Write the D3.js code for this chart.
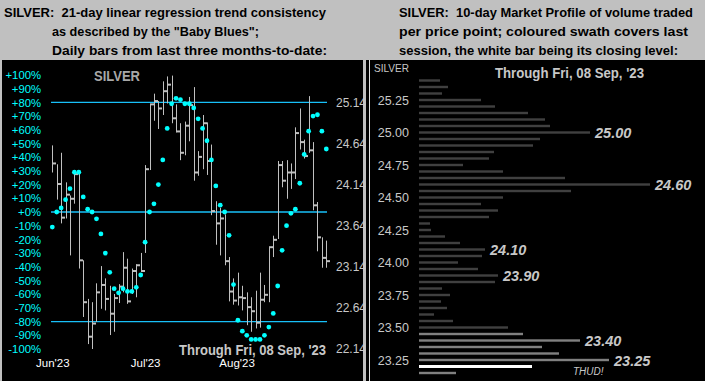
<!DOCTYPE html>
<html>
<head>
<meta charset="utf-8">
<script src="https://cdn.jsdelivr.net/npm/d3@7"></script>
<style>
  body { margin: 0; background: #c0c0c0; }
  svg { display: block; }
  text { white-space: pre; }
</style>
</head>
<body>
<div id="chart-area"></div>
<script>
// daily bars, last three months (index 0 = first bar)
const highs = [24.62,24.39,24.53,24.17,24.01,24.29,24.28,23.22,22.75,22.71,22.94,23.15,23.00,22.91,22.81,22.93,23.32,23.24,23.12,23.17,23.31,24.38,25.12,25.25,25.16,25.40,25.46,25.47,25.12,24.89,24.91,
  25.21,25.33,24.55,24.99,24.90,24.63,23.94,23.86,23.78,23.26,23.00,23.07,22.91,22.83,22.77,22.85,23.07,22.92,23.38,23.52,24.43,24.43,24.44,24.40,24.84,25.07,24.69,25.22,24.66,23.93,23.50,23.46];
const lows = [24.29,23.96,23.67,23.73,23.28,23.91,23.12,22.53,22.20,22.14,22.47,22.63,22.61,22.31,22.35,22.70,22.83,22.69,22.81,22.77,23.08,23.31,24.32,24.92,24.82,24.99,25.13,24.89,24.78,24.44,24.50,
  24.67,24.19,24.25,24.33,24.26,23.77,23.41,23.28,23.16,22.72,22.68,22.67,22.61,22.43,22.35,22.39,22.40,22.71,22.71,23.26,23.48,24.11,23.97,24.09,24.21,24.57,24.46,24.53,23.83,23.33,23.13,23.13];
const closes = [24.40,24.15,23.74,24.02,23.97,24.27,23.22,22.71,22.29,22.45,22.83,22.92,22.75,22.57,22.76,22.90,23.13,22.72,23.09,23.16,23.09,24.33,25.12,25.16,25.07,25.28,25.36,24.95,24.79,24.53,24.86,
  25.11,24.29,24.48,24.89,24.43,23.82,23.67,23.73,23.21,22.84,22.73,22.77,22.76,22.65,22.60,22.46,22.74,22.80,23.38,23.47,24.38,24.19,24.29,24.29,24.77,24.66,24.49,24.56,23.89,23.50,23.25,23.21];
// "Baby Blues": 21-day linear regression trend consistency, %
const blues = [-11,0,3,9,17,29,29,11,2,0,-5,-16,-30,-44,-56,-59,-56,-58,-58,-55,-46,-22,0,6,20,38,61,79,83,82,79,
  79,76,68,61,52,38,19,5,0,-17,-53,-79,-87,-90,-93,-93,-93,-90,-84,-74,-54,-28,-10,-1,2,21,42,59,70,71,59,46];

const months = ["Jun'23", "Jul'23", "Aug'23"];
const monthIdx = [0, 21, 41.7];
const pctTicks = d3.range(-100, 101, 10);
const priceTicks = [22.14, 22.64, 23.14, 23.64, 24.14, 24.64, 25.14];
const bandLines = [80, 0, -80];

// 10-day market profile: price level and volume traded there
const profPrice = [25.40,25.35,25.30,25.25,25.20,25.15,25.10,25.05,25.00,24.95,24.90,24.85,24.80,24.75,24.70,24.65,24.60,24.55,24.50,24.45,24.40,24.35,24.30,24.25,24.20,24.15,24.10,24.05,24.00,23.95,23.90,23.85,23.80,23.75,23.70,23.65,23.60,23.55,23.50,23.45,23.40,23.35,23.30,23.25,23.20,23.15];
const profVol = [21,29,23,62,76,109,126,131,171,121,114,75,70,44,84,146,231,152,84,62,79,70,11,12,26,41,66,63,39,59,79,76,23,31,22,28,15,34,89,104,161,123,140,190,113,37];
const profTicks = [23.25, 23.50, 23.75, 24.00, 24.25, 24.50, 24.75, 25.00, 25.25];
const peakLabels = [25.00, 24.60, 24.10, 23.90, 23.40, 23.25];
const lastHigh = 23.45, lastLow = 23.15, lastClose = 23.20;

const W = 705, H = 381;
const grey = "#c8c8c8";
const font = "'Liberation Sans', Arial, sans-serif";

let svg = d3.select("#chart-area")
  .append("svg")
  .attr("width", W)
  .attr("height", H)
  .style("font-family", font);

svg.append("rect").attr("width", W).attr("height", H).attr("fill", "#c0c0c0");

// header texts (x, width)
const headL = ["SILVER:  21-day linear regression trend consistency",
  "as described by the \"Baby Blues\";",
  "Daily bars from last three months-to-date:"];
const headLw = [322, 207, 275];
const headR = ["SILVER:  10-day Market Profile of volume traded",
  "per price point; coloured swath covers last",
  "session, the white bar being its closing level:"];
const headRw = [294, 289, 279];
headL.forEach((t, i) => {
  svg.append("text")
    .attr("x", i == 0 ? 4 : 52)
    .attr("y", 16.5 + i * 19)
    .attr("font-size", "13px")
    .attr("font-weight", "bold")
    .attr("textLength", headLw[i])
    .attr("lengthAdjust", "spacingAndGlyphs")
    .attr("fill", "#000")
    .text(t);
});
headR.forEach((t, i) => {
  svg.append("text")
    .attr("x", 399)
    .attr("y", 16.5 + i * 19)
    .attr("font-size", "13px")
    .attr("font-weight", "bold")
    .attr("textLength", headRw[i])
    .attr("lengthAdjust", "spacingAndGlyphs")
    .attr("fill", "#000")
    .text(t);
});

// ---------- left panel ----------
svg.append("rect").attr("x", 2).attr("y", 60).attr("width", 361).attr("height", 321).attr("fill", "#000");

const left = svg.append("g");

let x = d3.scaleLinear()
  .domain([0, closes.length - 1])
  .range([52.3, 326.3]);

let yPct = d3.scaleLinear()
  .domain([-100, 100])
  .range([349, 75]);

let yPrice = d3.scaleLinear()
  .domain([22.14, 25.14])
  .range([349, 102.7]);

// percent axis
let pctAxis = d3.axisLeft(yPct)
  .tickValues(pctTicks)
  .tickSize(0)
  .tickPadding(0)
  .tickFormat(d => (d >= 0 ? "+" : "") + d + "%");
left.append("g")
  .attr("transform", "translate(41,0)")
  .call(pctAxis)
  .call(g => g.select(".domain").remove())
  .selectAll("text")
  .attr("fill", "#00ffff")
  .attr("font-size", "11.3px")
  .attr("font-family", font);

// price axis on right
let priceAxis = d3.axisRight(yPrice)
  .tickValues(priceTicks)
  .tickSize(0)
  .tickPadding(0)
  .tickFormat(d3.format(".2f"));
left.append("g")
  .attr("transform", "translate(336,0)")
  .call(priceAxis)
  .call(g => g.select(".domain").remove())
  .selectAll("text")
  .attr("fill", grey)
  .attr("font-size", "12px")
  .attr("font-family", font);

// month labels
let monthAxis = d3.axisBottom(x)
  .tickValues(monthIdx)
  .tickSize(0)
  .tickPadding(0)
  .tickFormat((d, i) => months[i]);
left.append("g")
  .attr("transform", "translate(0,359)")
  .call(monthAxis)
  .call(g => g.select(".domain").remove())
  .selectAll("text")
  .attr("fill", "#fff")
  .attr("font-size", "11.5px")
  .attr("font-family", font);

// band lines
left.selectAll(".band").data(bandLines).enter().append("line")
  .attr("x1", 51).attr("x2", 327)
  .attr("y1", d => yPct(d)).attr("y2", d => yPct(d))
  .attr("stroke", "#18c0f8")
  .attr("stroke-width", 1.3);

// daily bars
let bars = left.selectAll(".bar").data(closes).enter().append("g");
bars.append("line")
  .attr("x1", (d, i) => Math.round(x(i)) + 0.5).attr("x2", (d, i) => Math.round(x(i)) + 0.5)
  .attr("y1", (d, i) => yPrice(highs[i])).attr("y2", (d, i) => yPrice(lows[i]))
  .attr("stroke", "#c0c0c0").attr("stroke-width", 1);
bars.append("line")
  .attr("x1", (d, i) => Math.round(x(i))).attr("x2", (d, i) => Math.round(x(i)) + 4)
  .attr("y1", d => yPrice(d)).attr("y2", d => yPrice(d))
  .attr("stroke", "#c0c0c0").attr("stroke-width", 2);

// baby blues
left.selectAll(".dot").data(blues).enter().append("circle")
  .attr("cx", (d, i) => x(i))
  .attr("cy", d => yPct(d))
  .attr("r", 2.4)
  .attr("fill", "#00ffff");

left.append("text")
  .attr("x", 94).attr("y", 81)
  .attr("font-size", "14px").attr("font-weight", "bold")
  .attr("textLength", 46).attr("lengthAdjust", "spacingAndGlyphs")
  .attr("fill", "#a8a8a8")
  .text("SILVER");

left.append("text")
  .attr("x", 179).attr("y", 355)
  .attr("font-size", "14px").attr("font-weight", "bold")
  .attr("textLength", 147).attr("lengthAdjust", "spacingAndGlyphs")
  .attr("fill", grey)
  .text("Through Fri, 08 Sep, '23");

// ---------- right panel ----------
svg.append("rect").attr("x", 366).attr("y", 60).attr("width", 339).attr("height", 321).attr("fill", "#000");
const right = svg.append("g");

right.append("line")
  .attr("x1", 369.5).attr("x2", 369.5).attr("y1", 60).attr("y2", 381)
  .attr("stroke", "#e0e0e0").attr("stroke-width", 1);

let yProf = d3.scaleLinear()
  .domain([23.25, 25.25])
  .range([360, 100]);

let xVol = d3.scaleLinear()
  .domain([0, 100])
  .range([419, 519]);

let profAxis = d3.axisLeft(yProf)
  .tickValues(profTicks)
  .tickSize(0)
  .tickPadding(0)
  .tickFormat(d3.format(".2f"));
right.append("g")
  .attr("transform", "translate(409,0)")
  .call(profAxis)
  .call(g => g.select(".domain").remove())
  .selectAll("text")
  .attr("fill", grey)
  .attr("font-size", "12.5px")
  .attr("font-family", font);

right.append("text")
  .attr("x", 374).attr("y", 72)
  .attr("font-size", "11px")
  .attr("textLength", 35).attr("lengthAdjust", "spacingAndGlyphs")
  .attr("fill", grey)
  .text("SILVER");

right.append("text")
  .attr("x", 495).attr("y", 78)
  .attr("font-size", "14px").attr("font-weight", "bold")
  .attr("textLength", 149).attr("lengthAdjust", "spacingAndGlyphs")
  .attr("fill", grey)
  .text("Through Fri, 08 Sep, '23");

const rowColor = (p) => {
  if (Math.abs(p - lastClose) < 0.001) return "#ffffff";
  if (p <= lastHigh + 0.001 && p >= lastLow - 0.001) return "#808080";
  return "#404040";
};

right.selectAll(".row").data(profVol).enter().append("rect")
  .attr("x", xVol(0))
  .attr("y", (d, i) => yProf(profPrice[i]) - (profPrice[i] == lastClose ? 1.5 : 1.2))
  .attr("width", d => xVol(d) - xVol(0))
  .attr("height", (d, i) => profPrice[i] == lastClose ? 3 : 2.4)
  .attr("fill", (d, i) => rowColor(profPrice[i]));

right.selectAll(".peak").data(peakLabels).enter().append("text")
  .attr("x", d => xVol(profVol[profPrice.indexOf(d)]) + 5)
  .attr("y", d => yProf(d) + 5.5)
  .attr("font-size", "14.5px")
  .attr("font-weight", "bold")
  .attr("font-style", "italic")
  .attr("fill", grey)
  .text(d => d.toFixed(2));

right.append("text")
  .attr("x", 573).attr("y", 375)
  .attr("font-size", "10px")
  .attr("font-style", "italic")
  .attr("fill", grey)
  .text("THUD!");
</script>
</body>
</html>
